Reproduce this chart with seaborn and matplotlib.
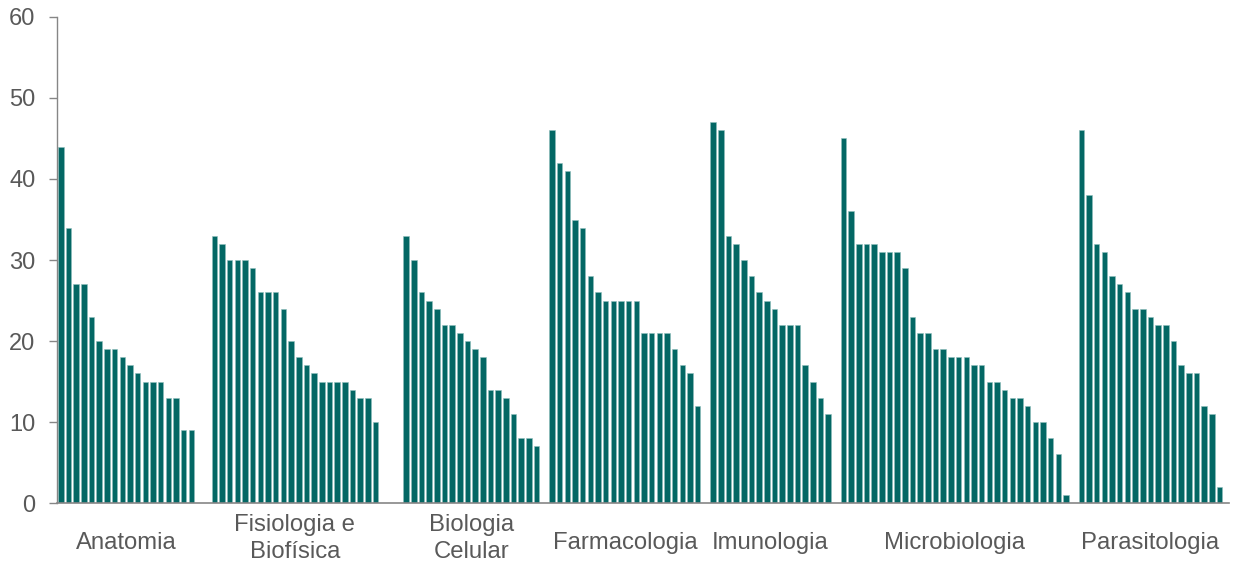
import numpy as np
import pandas as pd
import matplotlib
matplotlib.use("Agg")
import matplotlib.pyplot as plt
import matplotlib.transforms as mtransforms
import seaborn as sns

# =========================
# DATA
# =========================

groups = [
    "Anatomia",
    "Fisiologia e\nBiofísica",
    "Biologia\nCelular",
    "Farmacologia",
    "Imunologia",
    "Microbiologia",
    "Parasitologia",
]

anatomia = [44, 34, 27, 27, 23, 20, 19, 19, 18, 17, 16, 15, 15, 15, 13, 13, 9, 9]
fisiologia = [33, 32, 30, 30, 30, 29, 26, 26, 26, 24, 20, 18, 17, 16, 15, 15, 15, 15,
              14, 13, 13, 10]
biologia = [33, 30, 26, 25, 24, 22, 22, 21, 20, 19, 18, 14, 14, 13, 11, 8, 8, 7]
farmacologia = [46, 42, 41, 35, 34, 28, 26, 25, 25, 25, 25, 25, 21, 21, 21, 21, 19, 17,
                16, 12]
imunologia = [47, 46, 33, 32, 30, 28, 26, 25, 24, 22, 22, 22, 17, 15, 13, 11]
microbiologia = [45, 36, 32, 32, 32, 31, 31, 31, 29, 23, 21, 21, 19, 19, 18, 18, 18, 17,
                 17, 15, 15, 14, 13, 13, 12, 10, 10, 8, 6, 1]
parasitologia = [46, 38, 32, 31, 28, 27, 26, 24, 24, 23, 22, 22, 20, 17, 16, 16, 12, 11, 2]

series = [anatomia, fisiologia, biologia, farmacologia, imunologia, microbiologia,
          parasitologia]

# empty slots after each group
gaps = [2, 3, 1, 1, 1, 1, 0]

# =========================
# BUILD TABLE
# =========================

rows = []
centers = []
pos = 0
for name, vals, gap in zip(groups, series, gaps):
    start = pos
    for v in vals:
        rows.append({"pos": pos, "value": v, "group": name})
        pos += 1
    centers.append((start + pos - 1) / 2)
    pos += gap

df = pd.DataFrame(rows)

# =========================
# PLOT
# =========================

sns.set_style("white")
plt.rcParams["font.family"] = ["Liberation Sans", "DejaVu Sans"]

fig = plt.figure(figsize=(12.35, 5.72), dpi=100)
ax = fig.add_axes([0.0462, 0.1206, 0.9493, 0.8497])

sns.barplot(
    data=df,
    x="pos",
    y="value",
    native_scale=True,
    width=0.72,
    color="#036764",
    saturation=1,
    edgecolor="#8fbfbd",
    linewidth=0.4,
    ax=ax,
)

ax.set_xlim(-0.5, pos + 0.3)
ax.set_ylim(0, 60)
ax.set_yticks(np.arange(0, 61, 10))
ax.set_xticks([])

# group labels under the axis, centred like the original
trans = mtransforms.blended_transform_factory(ax.transData, ax.transAxes)
ax_h = 0.8497 * 572
for c, name in zip(centers, groups):
    offset = 35.6 if "\n" in name else 39.6
    ax.text(c, -offset / ax_h, name, transform=trans, ha="center", va="center",
            fontsize=17.2, color="#595959", linespacing=1.25)

ax.tick_params(axis="y", length=5.5, width=1, color="#868686", direction="out",
               pad=10, labelsize=17, labelcolor="#595959", left=True)

sns.despine(ax=ax, top=True, right=True)
ax.spines["left"].set_color("#868686")
ax.spines["bottom"].set_color("#868686")
ax.spines["left"].set_linewidth(1)
ax.spines["bottom"].set_linewidth(1.2)

ax.set_xlabel("")
ax.set_ylabel("")
ax.grid(False)

plt.savefig("out.png", dpi=100)
